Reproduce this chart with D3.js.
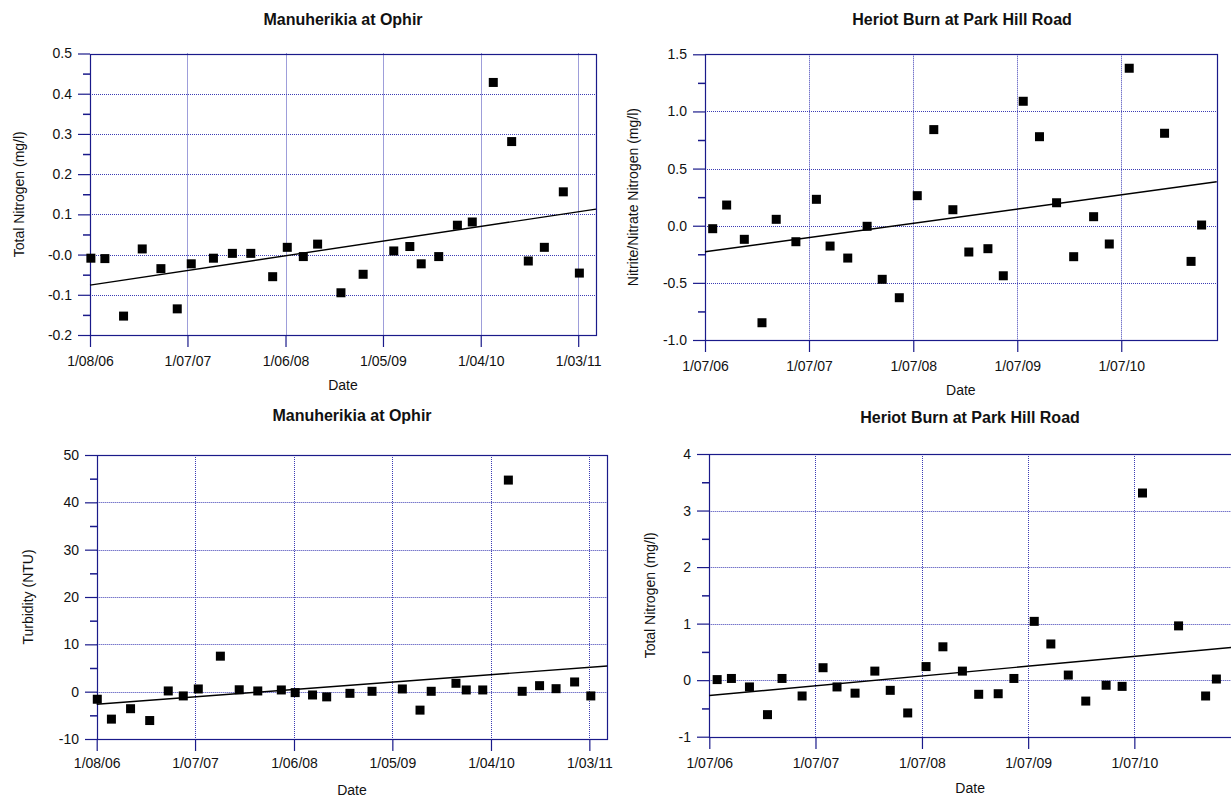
<!DOCTYPE html>
<html><head><meta charset="utf-8">
<script src="https://cdn.jsdelivr.net/npm/d3@7"></script>
<style>
body{margin:0;background:#fff}
svg{display:block}
text{font-family:"Liberation Sans",Arial,Helvetica,sans-serif;fill:#111}
</style>
</head><body>
<svg id="c" width="1231" height="801"></svg>
<script>
// ---------------- DATA ----------------
const ophirNDates = ["2006-08-04","2006-09-21","2006-11-24","2007-01-27","2007-04-01","2007-05-27","2007-07-14","2007-09-28","2007-12-02","2008-02-03","2008-04-18","2008-06-07","2008-08-01","2008-09-19","2008-12-08","2009-02-22","2009-06-07","2009-08-01","2009-09-09","2009-11-08","2010-01-11","2010-03-03","2010-05-14","2010-07-16","2010-09-11","2010-11-05","2011-01-09","2011-03-05"];
const ophirTN = [-0.009,-0.010,-0.153,0.014,-0.035,-0.135,-0.023,-0.009,0.003,0.003,-0.055,0.018,-0.005,0.026,-0.095,-0.049,0.009,0.020,-0.023,-0.005,0.073,0.081,0.428,0.281,-0.016,0.018,0.156,-0.046];
const ophirTNTrend = [["2006-08-01",-0.076],["2011-05-01",0.113]];

const ophirTurbDates = ["2006-08-03","2006-09-20","2006-11-24","2007-01-28","2007-04-01","2007-05-22","2007-07-12","2007-09-25","2007-11-28","2008-01-30","2008-04-19","2008-06-05","2008-08-03","2008-09-20","2008-12-08","2009-02-21","2009-06-04","2009-08-03","2009-09-10","2009-12-03","2010-01-07","2010-03-04","2010-05-30","2010-07-16","2010-09-13","2010-11-08","2011-01-10","2011-03-06"];
const ophirTurb = [-1.6,-5.8,-3.6,-6.1,0.15,-0.9,0.57,7.5,0.4,0.15,0.36,-0.2,-0.7,-1.1,-0.35,0.08,0.57,-3.9,0.08,1.77,0.36,0.36,44.7,0.08,1.27,0.63,2.05,-0.9];
const ophirTurbTrend = [["2006-08-01",-2.66],["2011-05-01",5.43]];

const heriotDates = ["2006-07-28","2006-09-15","2006-11-16","2007-01-17","2007-03-08","2007-05-16","2007-07-27","2007-09-13","2007-11-14","2008-01-21","2008-03-14","2008-05-13","2008-07-15","2008-09-11","2008-11-17","2009-01-12","2009-03-20","2009-05-13","2009-07-22","2009-09-17","2009-11-16","2010-01-15","2010-03-26","2010-05-20","2010-07-29","2010-11-30","2011-03-03","2011-04-09"];
const heriotNNN = [-0.026,0.181,-0.119,-0.849,0.056,-0.140,0.231,-0.178,-0.283,-0.005,-0.469,-0.630,0.263,0.841,0.140,-0.230,-0.201,-0.438,1.089,0.779,0.201,-0.271,0.079,-0.160,1.378,0.809,-0.312,0.006];
const heriotNNNTrend = [["2006-07-01",-0.228],["2011-06-01",0.385]];
const heriotTN = [0.01,0.03,-0.12,-0.61,0.03,-0.28,0.22,-0.12,-0.23,0.16,-0.18,-0.58,0.24,0.59,0.16,-0.25,-0.24,0.03,1.04,0.64,0.09,-0.37,-0.09,-0.11,3.31,0.96,-0.28,0.02];
const heriotTNTrend = [["2006-07-01",-0.272],["2011-06-01",0.58]];

const ophirXTicks = ["2006-08-01","2007-07-01","2008-06-01","2009-05-01","2010-04-01","2011-03-01"];
const ophirXLabels = ["1/08/06","1/07/07","1/06/08","1/05/09","1/04/10","1/03/11"];
const heriotXTicks = ["2006-07-01","2007-07-01","2008-07-01","2009-07-01","2010-07-01"];
const heriotXLabels = ["1/07/06","1/07/07","1/07/08","1/07/09","1/07/10"];

const tnYTicks = [0.5,0.4,0.3,0.2,0.1,0,-0.1,-0.2];
const tnYLabels = ["0.5","0.4","0.3","0.2","0.1","-0.0","-0.1","-0.2"];
const tnYMinor = [0.45,0.35,0.25,0.15,0.05,-0.05,-0.15];
const nnnYTicks = [1.5,1.0,0.5,0,-0.5,-1.0];
const nnnYLabels = ["1.5","1.0","0.5","0.0","-0.5","-1.0"];
const nnnYMinor = [1.25,0.75,0.25,-0.25,-0.75];
const turbYTicks = [50,40,30,20,10,0,-10];
const turbYLabels = ["50","40","30","20","10","0","-10"];
const turbYMinor = [45,35,25,15,5,-5];
const htnYTicks = [4,3,2,1,0,-1];
const htnYLabels = ["4","3","2","1","0","-1"];
const htnYMinor = [3.5,2.5,1.5,0.5,-0.5];

// ---------------- LAYOUT ----------------
const parse = d3.timeParse("%Y-%m-%d");
const navy = "#1a1a8a";
const gridCol = "#3c3cb4";

const panels = [
  {title:"Manuherikia at Ophir", ylabel:"Total Nitrogen (mg/l)", dates:ophirNDates, values:ophirTN, trend:ophirTNTrend,
   xDomain:["2006-08-01","2011-05-01"], yDomain:[-0.2,0.5], yTicks:tnYTicks, yLabels:tnYLabels, yMinor:tnYMinor,
   xTicks:ophirXTicks, xLabels:ophirXLabels, l:90, r:596, t:53.5, b:335, titleX:343, titleY:25, ylabX:24, xlabY:390, xPad:9},
  {title:"Heriot Burn at Park Hill Road", ylabel:"Nitrite/Nitrate Nitrogen (mg/l)", dates:heriotDates, values:heriotNNN, trend:heriotNNNTrend,
   xDomain:["2006-07-01","2011-06-01"], yDomain:[-1,1.5], yTicks:nnnYTicks, yLabels:nnnYLabels, yMinor:nnnYMinor,
   xTicks:heriotXTicks, xLabels:heriotXLabels, l:705, r:1216.7, t:54.3, b:340, titleX:962, titleY:25, ylabX:638, xlabY:395, xPad:9},
  {title:"Manuherikia at Ophir", ylabel:"Turbidity (NTU)", dates:ophirTurbDates, values:ophirTurb, trend:ophirTurbTrend,
   xDomain:["2006-08-01","2011-05-01"], yDomain:[-10,50], yTicks:turbYTicks, yLabels:turbYLabels, yMinor:turbYMinor,
   xTicks:ophirXTicks, xLabels:ophirXLabels, l:96.7, r:607.3, t:455, b:739, titleX:352, titleY:421, ylabX:33, xlabY:795, xPad:7},
  {title:"Heriot Burn at Park Hill Road", ylabel:"Total Nitrogen (mg/l)", dates:heriotDates, values:heriotTN, trend:heriotTNTrend,
   xDomain:["2006-07-01","2011-06-01"], yDomain:[-1,4], yTicks:htnYTicks, yLabels:htnYLabels, yMinor:htnYMinor,
   xTicks:heriotXTicks, xLabels:heriotXLabels, l:709.3, r:1231.8, t:454, b:736.7, titleX:970, titleY:423, ylabX:655, xlabY:793, xPad:9}
];

const svg = d3.select("#c");
svg.append("rect").attr("width",1231).attr("height",801).attr("fill","#fff");

panels.forEach(p => {
  const g = svg.append("g");
  const x = d3.scaleTime().domain(p.xDomain.map(parse)).range([p.l, p.r]);
  const y = d3.scaleLinear().domain(p.yDomain).range([p.b, p.t]);
  const xt = p.xTicks.map(parse);

  // grid lines
  g.append("g").selectAll("line")
    .data(p.yTicks.filter(v => v > p.yDomain[0] && v < p.yDomain[1]))
    .join("line")
    .attr("x1", p.l).attr("x2", p.r)
    .attr("y1", d => Math.round(y(d)) + 0.5).attr("y2", d => Math.round(y(d)) + 0.5)
    .attr("stroke", gridCol).attr("stroke-width", 1).attr("stroke-dasharray", "1,1");
  g.append("g").selectAll("line")
    .data(xt.filter(d => x(d) > p.l + 2))
    .join("line")
    .attr("x1", d => Math.round(x(d)) + 0.5).attr("x2", d => Math.round(x(d)) + 0.5)
    .attr("y1", p.t).attr("y2", p.b)
    .attr("stroke", gridCol).attr("stroke-width", 1).attr("stroke-dasharray", "1,1");

  // frame
  g.append("rect")
    .attr("x", Math.round(p.l) + 0.5).attr("y", Math.round(p.t) + 0.5)
    .attr("width", Math.round(p.r) - Math.round(p.l)).attr("height", Math.round(p.b) - Math.round(p.t))
    .attr("fill", "none").attr("stroke", navy).attr("stroke-width", 1.2);

  // y axis major
  const ya = g.append("g").attr("transform", `translate(${Math.round(p.l)},0)`)
    .call(d3.axisLeft(y).tickValues(p.yTicks).tickFormat((d, i) => p.yLabels[i]).tickSize(12).tickPadding(6));
  ya.select(".domain").remove();
  ya.selectAll("line").attr("stroke", navy).attr("stroke-width", 1.2);
  ya.selectAll("text").attr("font-size", 14).attr("fill", "#111").attr("font-family", "Liberation Sans, Arial, sans-serif");
  // y axis minor
  const ym = g.append("g").attr("transform", `translate(${Math.round(p.l)},0)`)
    .call(d3.axisLeft(y).tickValues(p.yMinor).tickFormat("").tickSize(7));
  ym.select(".domain").remove();
  ym.selectAll("line").attr("stroke", navy).attr("stroke-width", 1.5);

  // x axis
  const xa = g.append("g").attr("transform", `translate(0,${Math.round(p.b)})`)
    .call(d3.axisBottom(x).tickValues(xt).tickFormat((d, i) => p.xLabels[i]).tickSize(12).tickPadding(p.xPad));
  xa.select(".domain").remove();
  xa.selectAll("line").attr("stroke", navy).attr("stroke-width", 1.2);
  xa.selectAll("text").attr("font-size", 14).attr("fill", "#111").attr("font-family", "Liberation Sans, Arial, sans-serif");

  // trend line
  g.append("path").datum(p.trend)
    .attr("d", d3.line().x(d => x(parse(d[0]))).y(d => y(d[1])))
    .attr("fill", "none").attr("stroke", "#000").attr("stroke-width", 1.4);

  // points
  const S = 9;
  g.append("g").selectAll("rect")
    .data(d3.zip(p.dates.map(parse), p.values))
    .join("rect")
    .attr("x", d => x(d[0]) - S / 2).attr("y", d => y(d[1]) - S / 2)
    .attr("width", S).attr("height", S).attr("fill", "#000");

  // titles and labels
  g.append("text").attr("x", p.titleX).attr("y", p.titleY).attr("text-anchor", "middle")
    .attr("font-size", 16).attr("font-weight", "bold").text(p.title);
  g.append("text").attr("transform", `translate(${p.ylabX},${(p.t + p.b) / 2}) rotate(-90)`)
    .attr("text-anchor", "middle").attr("font-size", 14).text(p.ylabel);
  g.append("text").attr("x", (p.l + Math.min(p.r, 1231)) / 2).attr("y", p.xlabY).attr("text-anchor", "middle")
    .attr("font-size", 14).text("Date");
});
</script>
</body></html>
